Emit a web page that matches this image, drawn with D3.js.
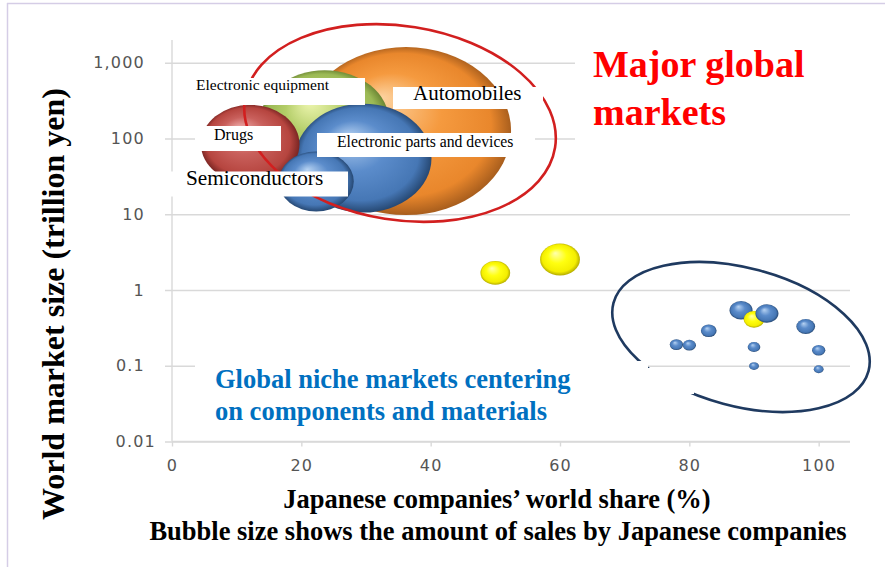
<!DOCTYPE html>
<html>
<head>
<meta charset="utf-8">
<script src="https://cdn.jsdelivr.net/npm/d3@7"></script>
<style>
  html, body { margin: 0; padding: 0; background: #fff; }
  svg { display: block; }
</style>
</head>
<body>
<svg id="chart" width="885" height="567"></svg>
<script>
// ---- Major global markets ----
const majorNames  = ["Automobiles", "Electronic equipment", "Electronic parts and devices", "Drugs", "Semiconductors"];
const majorShare  = [36.2, 23.6, 29.6, 12.1, 22.3];   // Japanese companies' world share (%)
const majorMarket = [125, 165, 55, 84, 27];           // world market size (trillion yen)
const majorSales  = [50, 19, 21, 11, 6.4];            // sales by Japanese companies (trillion yen)
const majorTone   = ["orange", "green", "blue", "red", "blue"];

// ---- Global niche markets (components and materials) ----
const nicheShare  = [50, 60, 78, 80, 83, 88, 90, 92, 98, 90, 100, 90, 100];
const nicheMarket = [1.68, 2.53, 0.19, 0.187, 0.29, 0.54, 0.41, 0.49, 0.33, 0.177, 0.16, 0.099, 0.09];
const nicheSales  = [1.0, 1.8, 0.2, 0.2, 0.28, 0.6, 0.49, 0.6, 0.4, 0.18, 0.2, 0.11, 0.11];
const nicheTone   = ["yellow", "yellow", "blue", "blue", "blue", "blue", "yellow", "blue", "blue", "blue", "blue", "blue", "blue"];

// ---- Axes ----
const xTicks = [0, 20, 40, 60, 80, 100];
const yTicks = [0.01, 0.1, 1, 10, 100, 1000];
const yTickLabels = ["0.01", "0.1", "1", "10", "100", "1,000"];

const svg = d3.select("#chart");
const W = 885, H = 567;

const x = d3.scaleLinear().domain([0, 105]).range([172, 851]);
const y = d3.scaleLog().domain([0.01, 1000]).range([441.5, 62.7]);
const ry = d3.scaleSqrt().domain([0, 50]).range([0, 84]);
const stretch = 1.25;

// 3D bubble shading
const tones = {
  orange: ["#fdd3a0", "#f59a3f", "#e9872c", "#9c561a"],
  green:  ["#eef6b0", "#b3cd68", "#9bb955", "#617a2c"],
  blue:   ["#b6d2f2", "#5b8ccb", "#4677b5", "#203f66"],
  red:    ["#f0b0ae", "#c9605c", "#b6453f", "#6e1f1d"],
  yellow: ["#ffffb0", "#ffff10", "#f4ee00", "#a9a000"]
};
const defs = svg.append("defs");
Object.entries(tones).forEach(([k, c]) => {
  const g = defs.append("radialGradient").attr("id", "g-" + k)
    .attr("cx", "50%").attr("cy", "50%").attr("r", "52%")
    .attr("fx", "38%").attr("fy", "30%");
  g.append("stop").attr("offset", "0%").attr("stop-color", c[0]);
  g.append("stop").attr("offset", "45%").attr("stop-color", c[1]);
  g.append("stop").attr("offset", "82%").attr("stop-color", c[2]);
  g.append("stop").attr("offset", "100%").attr("stop-color", c[3]);
});

// Page frame
svg.append("line").attr("x1", 7).attr("x2", W).attr("y1", 3.5).attr("y2", 3.5)
  .attr("stroke", "#d5cde6").attr("stroke-width", 1.5);
svg.append("line").attr("x1", 7.5).attr("x2", 7.5).attr("y1", 3).attr("y2", H)
  .attr("stroke", "#d5cde6").attr("stroke-width", 1.5);

const gridColor = "#d9d9d9";
const tickFont = { family: "DejaVu Sans", size: 16, fill: "#555555", spacing: 1.2 };

// Horizontal gridlines (with short outer ticks)
const grid = svg.append("g").attr("transform", "translate(165,0)")
  .call(d3.axisRight(y).tickValues(yTicks).tickSize(685).tickFormat(""));
grid.select(".domain").remove();
grid.selectAll("line").attr("stroke", gridColor).attr("stroke-width", 1.4);

// Vertical axis line
svg.append("line").attr("x1", 172).attr("x2", 172).attr("y1", y(2000)).attr("y2", y(0.01))
  .attr("stroke", gridColor).attr("stroke-width", 1.4);

// X axis
const xAxis = svg.append("g").attr("transform", `translate(0,${y(0.01)})`)
  .call(d3.axisBottom(x).tickValues(xTicks).tickSize(5).tickSizeOuter(0).tickPadding(13.6));
xAxis.select(".domain").attr("stroke", gridColor).attr("stroke-width", 1.4)
  .attr("d", `M172,0H850`);
xAxis.selectAll("line").attr("stroke", gridColor).attr("stroke-width", 1.4);
xAxis.selectAll("text").attr("font-family", tickFont.family).attr("font-size", tickFont.size)
  .attr("fill", tickFont.fill).attr("letter-spacing", tickFont.spacing);

// Major market bubbles
const major = majorNames.map((n, i) => ({ n, s: majorShare[i], m: majorMarket[i], v: majorSales[i], t: majorTone[i] }));
svg.append("g").selectAll("ellipse").data(major).join("ellipse")
  .attr("cx", d => x(d.s)).attr("cy", d => y(d.m))
  .attr("rx", d => ry(d.v) * stretch).attr("ry", d => ry(d.v))
  .attr("fill", d => `url(#g-${d.t})`);

// Ring around the major markets
svg.append("ellipse").attr("cx", 0).attr("cy", 0).attr("rx", 157).attr("ry", 97)
  .attr("transform", "translate(400,123) rotate(9)")
  .attr("fill", "none").attr("stroke", "#d21f1f").attr("stroke-width", 2.6);

// Market labels on white boxes
const labelLayout = [
  { t: "Electronic equipment",          box: [193, 78, 172, 27], tx: 196, ty: 90,    fs: 15.5 },
  { t: "Automobiles",                   box: [393, 87, 150, 22], tx: 413, ty: 99.5,  fs: 21 },
  { t: "Drugs",                         box: [195, 126, 86, 25], tx: 214, ty: 139.5, fs: 16 },
  { t: "Electronic parts and devices",  box: [317, 133, 218, 24], tx: 337, ty: 146.5, fs: 15.7 },
  { t: "Semiconductors",                box: [166, 171.5, 182, 25], tx: 186, ty: 184.5, fs: 21.3 }
];
const lab = svg.append("g").selectAll("g").data(labelLayout).join("g");
lab.append("rect").attr("x", d => d.box[0]).attr("y", d => d.box[1])
  .attr("width", d => d.box[2]).attr("height", d => d.box[3]).attr("fill", "#fff");
lab.append("text").attr("x", d => d.tx).attr("y", d => d.ty)
  .attr("font-family", "Liberation Serif, Times New Roman, serif")
  .attr("font-size", d => d.fs).attr("fill", "#000").text(d => d.t);

// "Major global markets" note
svg.append("rect").attr("x", 575).attr("y", 35).attr("width", 276).attr("height", 112).attr("fill", "#fff");
const majorNote = svg.append("text").attr("font-family", "Liberation Serif, Times New Roman, serif")
  .attr("font-weight", "bold").attr("font-size", 38).attr("fill", "#ff0000");
majorNote.append("tspan").attr("x", 593).attr("y", 77).text("Major global");
majorNote.append("tspan").attr("x", 593).attr("y", 125).text("markets");

// Niche market bubbles
const niche = nicheShare.map((s, i) => ({ s, m: nicheMarket[i], v: nicheSales[i], t: nicheTone[i] }));
svg.append("g").selectAll("ellipse").data(niche).join("ellipse")
  .attr("cx", d => x(d.s)).attr("cy", d => y(d.m))
  .attr("rx", d => ry(d.v) * stretch).attr("ry", d => ry(d.v))
  .attr("fill", d => `url(#g-${d.t})`);

// Ring around the niche markets
svg.append("ellipse").attr("cx", 0).attr("cy", 0).attr("rx", 132).attr("ry", 69)
  .attr("transform", "translate(741,337) rotate(15)")
  .attr("fill", "none").attr("stroke", "#1f3a60").attr("stroke-width", 2.6);

// Niche note and its white backing
svg.append("rect").attr("x", 648).attr("y", 368).attr("width", 46).attr("height", 26).attr("fill", "#fff");
svg.append("rect").attr("x", 195).attr("y", 361).attr("width", 453).attr("height", 70).attr("fill", "#fff");
const nicheNote = svg.append("text").attr("font-family", "Liberation Serif, Times New Roman, serif")
  .attr("font-weight", "bold").attr("font-size", 26.5).attr("fill", "#0070c0");
nicheNote.append("tspan").attr("x", 215).attr("y", 388).text("Global niche markets centering");
nicheNote.append("tspan").attr("x", 215).attr("y", 420).text("on components and materials");

// Y tick labels
const yAxis = svg.append("g").attr("transform", "translate(172,0)")
  .call(d3.axisLeft(y).tickValues(yTicks).tickSize(0).tickPadding(27)
    .tickFormat((d, i) => yTickLabels[i]));
yAxis.select(".domain").remove();
yAxis.selectAll("text").attr("font-family", tickFont.family).attr("font-size", tickFont.size)
  .attr("fill", tickFont.fill).attr("letter-spacing", tickFont.spacing);
yAxis.selectAll("text").filter(d => d === 0.01).attr("dx", 11);

// Axis titles
svg.append("text").attr("transform", "translate(64,304) rotate(-90)")
  .attr("text-anchor", "middle").attr("font-family", "Liberation Serif, Times New Roman, serif")
  .attr("font-weight", "bold").attr("font-size", 32).attr("fill", "#000")
  .text("World market size (trillion yen)");
svg.append("text").attr("x", 497).attr("y", 508).attr("text-anchor", "middle")
  .attr("font-family", "Liberation Serif, Times New Roman, serif")
  .attr("font-weight", "bold").attr("font-size", 26.5).attr("fill", "#000")
  .text("Japanese companies\u2019 world share (%)");
svg.append("text").attr("x", 498).attr("y", 540).attr("text-anchor", "middle")
  .attr("font-family", "Liberation Serif, Times New Roman, serif")
  .attr("font-weight", "bold").attr("font-size", 26.5).attr("fill", "#000")
  .text("Bubble size shows the amount of sales by Japanese companies");
</script>
</body>
</html>
